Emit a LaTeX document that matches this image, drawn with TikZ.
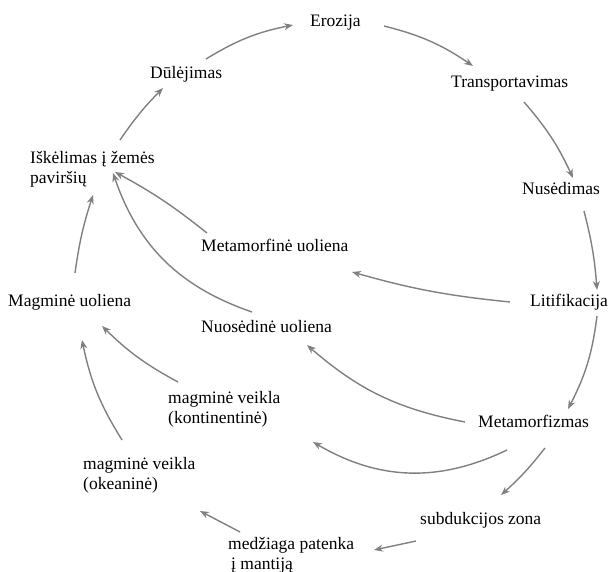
\documentclass[tikz,border=0pt]{standalone}
\usepackage{fontspec}
\setmainfont{Liberation Serif}
\usetikzlibrary{arrows.meta}
\definecolor{arr}{RGB}{128,128,128}
\begin{document}
\begin{tikzpicture}[x=1pt,y=-1pt,
  lbl/.style={anchor=base west,inner sep=0pt,font=\fontsize{17.5}{20}\selectfont,align=left},
  cyc/.style={draw=arr,line width=1.4pt,-{Stealth[length=9pt,width=7pt]}}]
\useasboundingbox (0,0) rectangle (611,572);
\node[lbl] (ero) at (310,27) {Erozija};
\node[lbl] (dul) at (150,79) {Dūlėjimas};
\node[lbl] (tra) at (451,88) {Transportavimas};
\node[lbl] (isk) at (30,184) {Iškėlimas į žemės\\paviršių};
\node[lbl] (nus) at (522,195) {Nusėdimas};
\node[lbl] (mtr) at (201,252) {Metamorfinė uoliena};
\node[lbl] (mag) at (8,307) {Magminė uoliena};
\node[lbl] (lit) at (530,307) {Litifikacija};
\node[lbl] (nuo) at (201,333) {Nuosėdinė uoliena};
\node[lbl] (kon) at (168,423) {magminė veikla\\(kontinentinė)};
\node[lbl] (mfz) at (478,427) {Metamorfizmas};
\node[lbl] (oke) at (83,489) {magminė veikla\\(okeaninė)};
\node[lbl] (sub) at (420,524) {subdukcijos zona};
\node[lbl] (med) at (228,569) {medžiaga patenka\\\hspace{3pt}į mantiją};
\coordinate (free) at (313,442);
% main cycle
\draw[cyc] ([shift={(56,-20)}]dul.base west) to[bend left=10] ([shift={(-17,-2)}]ero.base west);
\draw[cyc] ([shift={(74,-1)}]ero.base west) to[bend left=10] ([shift={(22,-22)}]tra.base west);
\draw[cyc] ([shift={(73,14)}]tra.base west) to[bend left=8] ([shift={(51,-17)}]nus.base west);
\draw[cyc] ([shift={(62,16)}]nus.base west) to[bend left=5] ([shift={(67,-17)}]lit.base west);
\draw[cyc] ([shift={(67,9)}]lit.base west) to[bend left=10] ([shift={(90,-18)}]mfz.base west);
\draw[cyc] ([shift={(67,21)}]mfz.base west) to[bend left=5] ([shift={(81,-29)}]sub.base west);
\draw[cyc] ([shift={(-4,17)}]sub.base west) -- ([shift={(146,-19)}]med.base west);
\draw[cyc] ([shift={(12,-37)}]med.base west) -- ([shift={(117,22)}]oke.base west);
\draw[cyc] ([shift={(39,-49)}]oke.base west) to[bend left=10] ([shift={(74,33)}]mag.base west);
\draw[cyc] ([shift={(10,-41)}]kon.base west) to[bend left=8] ([shift={(94,19)}]mag.base west);
\draw[cyc] ([shift={(-13,-5)}]mfz.base west) to[bend left=15] ([shift={(106,12)}]nuo.base west);
\draw[cyc] ([shift={(29,23)}]mfz.base west) to[bend left=28] (free);
\draw[cyc] ([shift={(-20,-5)}]lit.base west) to[bend left=5] ([shift={(151,20)}]mtr.base west);
\draw[cyc] ([shift={(6,-19)}]mtr.base west) to[bend right=5] ([shift={(85,-12)}]isk.base west);
\draw[cyc] ([shift={(51,-21)}]nuo.base west) to[bend left=26] ([shift={(83,-11)}]isk.base west);
\draw[cyc] ([shift={(67,-34)}]mag.base west) to[bend left=5] ([shift={(63,11)}]isk.base west);
\draw[cyc] ([shift={(90,-44)}]isk.base west) to[bend left=5] ([shift={(13,9)}]dul.base west);
\end{tikzpicture}
\end{document}
